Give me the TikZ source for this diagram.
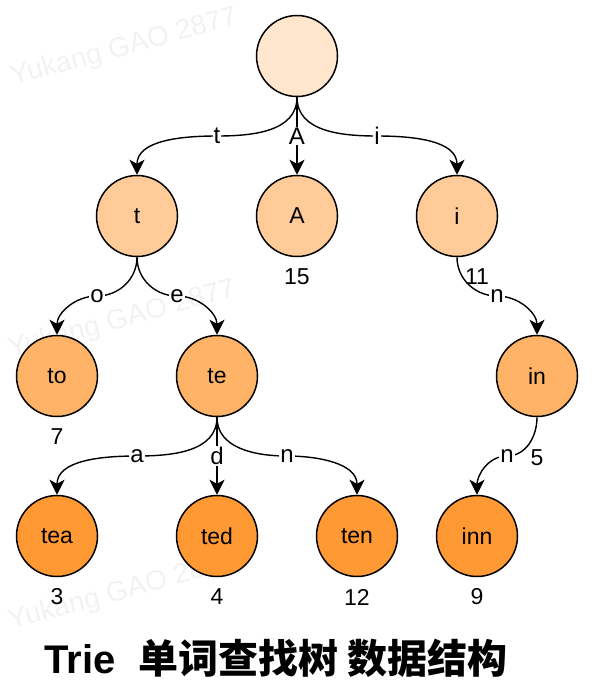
\documentclass[tikz,border=0pt]{standalone}
\usepackage{fontspec}
\setmainfont{Liberation Sans}
\newfontfamily\cjk{Noto Sans CJK SC}
\usetikzlibrary{arrows.meta,calc}
\definecolor{c0}{HTML}{FFE6CC}
\definecolor{c1}{HTML}{FFCC99}
\definecolor{c2}{HTML}{FFB366}
\definecolor{c3}{HTML}{FF9933}
\tikzset{
  trienode/.style={circle, draw=black, line width=1.5pt, minimum size=81pt, inner sep=0pt, font=\fontsize{23}{25}\selectfont},
  lv0/.style={trienode, fill=c0},
  lv1/.style={trienode, fill=c1},
  lv2/.style={trienode, fill=c2},
  lv3/.style={trienode, fill=c3},
  edge/.style={line width=1.4pt, -{Stealth[length=15pt,width=15pt,inset=4pt]}},
  elabel/.style={fill=white, inner sep=1pt, font=\fontsize{24}{26}\selectfont},
  countlabel/.style={inner sep=0pt, font=\fontsize{23}{25}\selectfont},
  wmark/.style={text=black!5, rotate=15, font=\fontsize{28}{30}\selectfont},
}
\begin{document}
\begin{tikzpicture}[x=1pt,y=-1pt]
\useasboundingbox (0,0) rectangle (594,697);
% watermarks
\node[wmark] (w1) at (124,48) {Yukang GAO 2877};
\node[wmark] (w2) at (122,320) {Yukang GAO 2877};
\node[wmark] (w3) at (122,592) {Yukang GAO 2877};
% nodes
\node[lv0] (root) at (297,56) {};
\node[lv1] (t) at (137,216) {t};
\node[lv1] (A) at (297,216) {A};
\node[lv1] (i) at (457,216) {i};
\node[lv2] (to) at (57,376) {to};
\node[lv2] (te) at (217,376) {te};
\node[lv2] (in) at (537,376) {in};
\node[lv3] (tea) at (57,536) {tea};
\node[lv3] (ted) at (217,536) {ted};
\node[lv3] (ten) at (357,536) {ten};
\node[lv3] (inn) at (477,536) {inn};
% counts
\node[countlabel] (nA) at (297,277) {15};
\node[countlabel] (ni) at (477,277) {11};
\node[countlabel] (nto) at (57,437) {7};
\node[countlabel] (nin) at (537,458) {5};
\node[countlabel] (ntea) at (57,597) {3};
\node[countlabel] (nted) at (217,597) {4};
\node[countlabel] (nten) at (357,597) {12};
\node[countlabel] (ninn) at (477,597) {9};
% edges
\draw[edge] (root.south) to[out=-90,in=0] ($(root.south)!.5!(t.north)$) node[elabel]{t} to[out=180,in=90] (t.north);
\draw[edge] (root.south) -- node[elabel]{A} (A.north);
\draw[edge] (root.south) to[out=-90,in=180] ($(root.south)!.5!(i.north)$) node[elabel]{i} to[out=0,in=90] (i.north);
\draw[edge] (t.south) to[out=-90,in=0] ($(t.south)!.5!(to.north)$) node[elabel]{o} to[out=180,in=90] (to.north);
\draw[edge] (t.south) to[out=-90,in=180] ($(t.south)!.5!(te.north)$) node[elabel]{e} to[out=0,in=90] (te.north);
\draw[edge] (i.south) to[out=-90,in=180] ($(i.south)!.5!(in.north)$) node[elabel]{n} to[out=0,in=90] (in.north);
\draw[edge] (te.south) to[out=-90,in=0] ($(te.south)!.5!(tea.north)$) node[elabel]{a} to[out=180,in=90] (tea.north);
\draw[edge] (te.south) -- node[elabel]{d} (ted.north);
\draw[edge] (te.south) to[out=-90,in=180] ($(te.south)!.5!(ten.north)$) node[elabel]{n} to[out=0,in=90] (ten.north);
\draw[edge] (in.south) to[out=-90,in=0] ($(in.south)!.5!(inn.north)$) node[elabel]{n} to[out=180,in=90] (inn.north);
% title
\node[inner sep=0pt, font=\fontsize{40}{42}\selectfont\bfseries] (title) at (276,658) {Trie\ \ {\cjk 单词查找树 数据结构}};
\end{tikzpicture}
\end{document}
